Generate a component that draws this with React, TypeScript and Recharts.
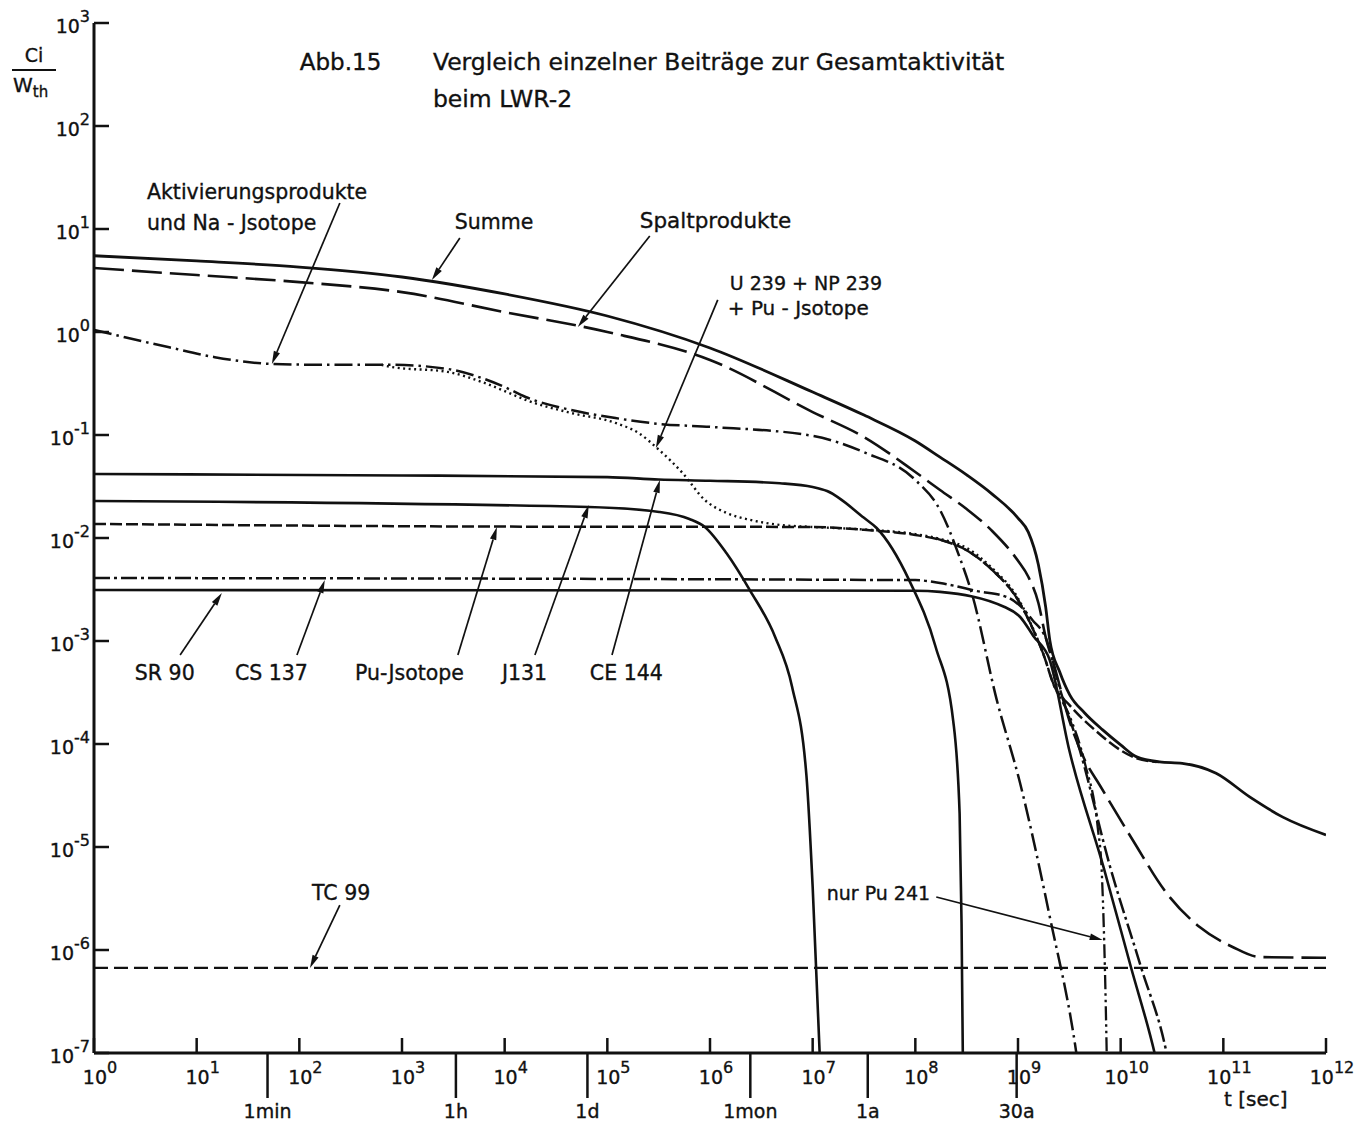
import React from 'react'
import { LineChart, Line, XAxis, YAxis, ReferenceLine, ReferenceDot } from 'recharts'

const FONT = '"DejaVu Sans", "Noto Sans", sans-serif'
const INK = '#111'

// t [sec] -> Ci/Wth
const summe = [
  [1, 5.5], [10, 4.9], [100, 4.27], [1e3, 3.42], [1e4, 2.34], [1e5, 1.43], [1e6, 0.7],
  [1e7, 0.261], [3.16e7, 0.156], [1e8, 0.0875], [1.74e8, 0.061], [3.16e8, 0.041],
  [5.6e8, 0.0267], [1e9, 0.0156], [1.26e9, 0.0114], [1.58e9, 5.5e-3], [1.86e9, 2.14e-3],
  [2.04e9, 1.02e-3], [2.55e9, 5e-4], [3.19e9, 3e-4], [4.46e9, 2e-4], [6.68e9, 1.37e-4],
  [1e10, 9.8e-5], [1.43e10, 7.5e-5], [2.4e10, 6.7e-5], [3.98e10, 6.5e-5], [8.5e10, 5.2e-5],
  [1.82e11, 3.05e-5], [3.8e11, 1.95e-5], [1e12, 1.31e-5],
]
const spalt = [
  [1, 4.18], [10, 3.57], [100, 3.05], [1e3, 2.44], [1e4, 1.56], [1e5, 1.0], [1e6, 0.535],
  [1e7, 0.167], [3.16e7, 0.0957], [1e8, 0.0437], [1.74e8, 0.0292], [3.16e8, 0.0191],
  [5.6e8, 0.0117], [1e9, 6e-3], [1.26e9, 4.2e-3], [1.58e9, 2.34e-3], [1.86e9, 1.09e-3],
  [2.24e9, 5.85e-4], [3.16e9, 1.7e-4], [4.47e9, 7e-5], [6.24e9, 4e-5], [1.31e10, 1.17e-5],
  [2.8e10, 3.57e-6], [5.88e10, 1.67e-6], [1.23e11, 1.07e-6], [2.26e11, 8.55e-7],
  [1e12, 8.4e-7],
]
const aktiv = [
  [1, 1.05], [2, 0.89], [5.4, 0.71], [15, 0.57], [54, 0.49], [178, 0.48], [794, 0.48],
  [2770, 0.438], [6000, 0.357], [1e4, 0.292], [1.6e4, 0.234], [4.4e4, 0.175], [1.2e5, 0.146],
  [3.2e5, 0.128], [1e6, 0.12], [1e7, 0.098], [3.16e7, 0.068], [1e8, 0.0366], [1.74e8, 0.0187],
  [2.7e8, 6.5e-3], [3.55e8, 2.9e-3], [6.2e8, 2.7e-4], [1.04e9, 4.3e-5], [2.04e9, 2.1e-6],
  [3.7e9, 1e-7], [4.2e9, 4e-8],
]
const uNpPu = [
  [631, 0.48], [794, 0.457], [2770, 0.41], [6000, 0.327], [1e4, 0.267], [1.6e4, 0.219],
  [4.4e4, 0.164], [1.2e5, 0.131], [2e5, 0.105], [3.2e5, 0.0715], [5.4e5, 0.0428],
  [8.9e5, 0.0234], [1.45e6, 0.0175], [2.45e6, 0.015], [4.8e6, 0.0134], [1e7, 0.0128],
  [3.16e7, 0.0121], [1e8, 0.0109], [1.74e8, 9.8e-3], [3.16e8, 8e-3], [5.6e8, 5.1e-3],
  [1e9, 2.6e-3], [1.41e9, 1.3e-3], [1.78e9, 7.4e-4],
]
const puIso = [
  [1, 0.0137], [1e4, 0.0129], [1e7, 0.0128], [3.16e7, 0.012], [1e8, 0.0107], [1.74e8, 9.6e-3],
  [3.16e8, 7.6e-3], [5.6e8, 4.9e-3], [1e9, 2.5e-3], [1.41e9, 1.28e-3], [1.78e9, 7.3e-4],
  [2.24e9, 3.7e-4], [3.16e9, 2.4e-4], [5.6e9, 1.37e-4], [1e10, 8.7e-5], [1.41e10, 7.3e-5],
  [2.24e10, 6.7e-5],
]
const pu241 = [
  [1.58e8, 9.9e-3], [3.16e8, 7.6e-3], [5.6e8, 4.9e-3], [1e9, 2.5e-3], [1.41e9, 1.28e-3],
  [1.78e9, 7.3e-4], [2.24e9, 3.7e-4], [3.16e9, 1.9e-4], [4.5e9, 6.4e-5], [6e9, 1.5e-5],
  [6.53e9, 6e-6], [7.31e9, 1e-7], [7.4e9, 5e-8],
]
const sr90 = [
  [1, 3.13e-3], [1e8, 3.08e-3], [1.74e8, 3.0e-3], [7.4e8, 2.14e-3], [1.05e9, 1.71e-3],
  [1.41e9, 1.12e-3], [2.04e9, 6.5e-4], [3.16e9, 8.7e-5], [6.8e9, 6.4e-6], [1.26e10, 6.8e-7],
  [2.14e10, 1e-7], [2.5e10, 5e-8],
]
const cs137 = [
  [1, 4.09e-3], [1e8, 3.9e-3], [1.74e8, 3.66e-3], [4e8, 3.05e-3], [7.8e8, 2.67e-3],
  [1.05e9, 2.19e-3], [1.38e9, 1.6e-3], [1.9e9, 1.02e-3], [2.5e9, 3.7e-4], [4e9, 8.7e-5],
  [7.9e9, 6.4e-6], [1.58e10, 6.8e-7], [2.8e10, 1e-7], [3.2e10, 5e-8],
]
const ce144 = [
  [1, 0.0418], [1e3, 0.0405], [1e5, 0.039], [3.16e5, 0.037], [1e6, 0.036], [4.8e6, 0.034],
  [1e7, 0.0313], [1.38e7, 0.0286], [3.16e7, 0.0157], [4.2e7, 0.0125], [8.7e7, 3.9e-3],
  [1.58e8, 8.7e-4], [2.34e8, 1.67e-4], [2.7e8, 2.1e-5], [2.82e8, 1.8e-6], [2.9e8, 1e-7],
  [2.95e8, 5e-8],
]
const j131 = [
  [1, 0.0229], [6.6e4, 0.02], [3.2e5, 0.0179], [6.3e5, 0.0153], [8.9e5, 0.0128],
  [1.45e6, 7.1e-3], [2.45e6, 3.1e-3], [4.3e6, 1.1e-3], [6.3e6, 3.6e-4], [8.7e6, 4.9e-5],
  [1e7, 4.1e-6], [1.17e7, 1e-7], [1.2e7, 5e-8],
]
const tc99 = [[1, 6.7e-7], [1e4, 6.7e-7], [1e8, 6.7e-7], [1e12, 6.7e-7]]

const decades = [1, 1e1, 1e2, 1e3, 1e4, 1e5, 1e6, 1e7, 1e8, 1e9, 1e10, 1e11, 1e12]
const valueDecades = [1e-7, 1e-6, 1e-5, 1e-4, 1e-3, 1e-2, 1e-1, 1, 1e1, 1e2, 1e3]
const timeMarks = [
  { t: 49, label: '1min' }, { t: 3350, label: '1h' }, { t: 6.4e4, label: '1d' },
  { t: 2.47e6, label: '1mon' }, { t: 3.44e7, label: '1a' }, { t: 9.7e8, label: '30a' },
]

// text notes: [text, t, v, size] at left edge / vertical centre
const notes: [string, number, number, number][] = [
  ['Abb.15', 101, 418, 23],
  ['Vergleich einzelner Beiträge zur Gesamtaktivität', 2000, 418, 23.5],
  ['beim LWR-2', 2000, 183, 23.5],
  ['Aktivierungsprodukte', 3.28, 22.9, 20.5],
  ['und Na - Jsotope', 3.28, 11.4, 20.5],
  ['Summe', 3270, 11.7, 20.5],
  ['Spaltprodukte', 2.07e5, 12, 21.5],
  ['U 239 + NP 239', 1.56e6, 2.99, 19],
  ['+ Pu - Jsotope', 1.49e6, 1.71, 20],
  ['SR 90', 2.5, 4.89e-4, 20.5],
  ['CS 137', 23.6, 4.89e-4, 20.5],
  ['Pu-Jsotope', 348, 4.89e-4, 20.5],
  ['J131', 9400, 4.89e-4, 20.5],
  ['CE 144', 6.76e4, 4.89e-4, 20.5],
  ['TC 99', 133, 3.57e-6, 20.5],
  ['nur Pu 241', 1.37e7, 3.57e-6, 19],
]

// leader arrows: tail [t, v] -> tip [t, v]
const arrows: number[][][] = [
  [[248, 17.9], [54, 0.489]],
  [[3660, 8.18], [1955, 3.2]],
  [[2.59e5, 8.55], [5.16e4, 1.12]],
  [[1.19e6, 2.05], [2.97e5, 0.0748]],
  [[1.11e5, 7.3e-4], [3.25e5, 0.0366]],
  [[1.97e4, 7.3e-4], [6.6e4, 0.0209]],
  [[3500, 7.3e-4], [8400, 0.0128]],
  [[94.8, 7.3e-4], [177, 3.9e-3]],
  [[6.9, 7.3e-4], [17.6, 2.92e-3]],
  [[248, 2.73e-6], [127, 6.7e-7]],
  [[1.6e8, 3.27e-6], [6.68e9, 1.25e-6]],
]

const pts = (a: number[][]) => a.map(([t, v]) => ({ t, v }))

const series = [
  { key: 'summe', data: summe, dash: undefined, w: 2.8 },
  { key: 'spalt', data: spalt, dash: '30 8', w: 2.6 },
  { key: 'aktiv', data: aktiv, dash: '18 5 2.5 5', w: 2.5 },
  { key: 'uNpPu', data: uNpPu, dash: '2 3.5', w: 2.4 },
  { key: 'puIso', data: puIso, dash: '12 4', w: 2.5 },
  { key: 'pu241', data: pu241, dash: '14 4 2.5 4 2.5 4', w: 2.3 },
  { key: 'sr90', data: sr90, dash: undefined, w: 2.6 },
  { key: 'cs137', data: cs137, dash: '16 4 3 4', w: 2.5 },
  { key: 'ce144', data: ce144, dash: undefined, w: 2.6 },
  { key: 'j131', data: j131, dash: undefined, w: 2.6 },
  { key: 'tc99', data: tc99, dash: '14 6', w: 2.3 },
]

const expOf = (v: number) => Math.round(Math.log10(v))
const textStyle = { stroke: INK, strokeWidth: 0.35 }

const LeftTick = (p: any) => {
  const { x, y, payload } = p
  return (
    <g>
      <line x1={x} x2={x + 15} y1={y} y2={y} stroke={INK} strokeWidth={2.5} />
      <text x={x - 4} y={y + 3} textAnchor="end" dominantBaseline="central" fontFamily={FONT} fontSize={19} fill={INK} {...textStyle}>
        10<tspan dy={-10} fontSize={16}>{expOf(payload.value)}</tspan>
      </text>
    </g>
  )
}

const RightTick = (p: any) => (
  <line x1={p.x} x2={p.x - 15} y1={p.y} y2={p.y} stroke={INK} strokeWidth={2.5} />
)

const TopTick = (p: any) => (
  <line x1={p.x} x2={p.x} y1={p.y} y2={p.y + 14} stroke={INK} strokeWidth={2.5} />
)

const BottomTick = (p: any) => {
  const { x, y, payload } = p
  const mark = timeMarks.find((m) => m.t === payload.value)
  if (mark) {
    return (
      <g>
        <line x1={x} x2={x} y1={y} y2={y + 45} stroke={INK} strokeWidth={2.5} />
        <text x={x} y={y + 58} textAnchor="middle" dominantBaseline="central" fontFamily={FONT} fontSize={19} fill={INK} {...textStyle}>
          {mark.label}
        </text>
      </g>
    )
  }
  return (
    <g>
      <line x1={x} x2={x} y1={y} y2={y - 15} stroke={INK} strokeWidth={2.5} />
      <text x={x + 6} y={y + 24} textAnchor="middle" dominantBaseline="central" fontFamily={FONT} fontSize={19} fill={INK} {...textStyle}>
        10<tspan dy={-10} fontSize={16}>{expOf(payload.value)}</tspan>
      </text>
    </g>
  )
}

const Arrow = (p: any) => {
  const { x1, y1, x2, y2 } = p
  const a = Math.atan2(y2 - y1, x2 - x1)
  const len = 13
  const half = 3.3
  const bx = x2 - len * Math.cos(a)
  const by = y2 - len * Math.sin(a)
  const px = -Math.sin(a) * half
  const py = Math.cos(a) * half
  return (
    <g>
      <line x1={x1} y1={y1} x2={bx} y2={by} stroke={INK} strokeWidth={1.7} />
      <polygon points={`${x2},${y2} ${bx + px},${by + py} ${bx - px},${by - py}`} fill={INK} />
    </g>
  )
}

export default function App() {
  const axisLine = { stroke: INK, strokeWidth: 3 }
  const htmlText = { position: 'absolute' as const, fontFamily: FONT, color: INK, WebkitTextStroke: '0.35px #111' }
  return (
    <div style={{ position: 'absolute', left: 0, top: 0, width: 1358, height: 1129, background: '#fff' }}>
      <LineChart width={1358} height={1129} margin={{ top: 23, right: 32, bottom: 0, left: 0 }}>
        <XAxis
          dataKey="t" type="number" scale="log" domain={[1, 1e12]} allowDataOverflow
          ticks={[...decades, ...timeMarks.map((m) => m.t)]} interval={0}
          height={76} tickSize={0} tickMargin={0} tick={BottomTick} axisLine={axisLine} tickLine={false}
        />
        <XAxis
          xAxisId="top" orientation="top" dataKey="t" type="number" scale="log" domain={[1, 1e12]}
          allowDataOverflow ticks={decades} interval={0} height={0} tickSize={0} tickMargin={0}
          tick={TopTick} axisLine={axisLine} tickLine={false}
        />
        <YAxis
          dataKey="v" type="number" scale="log" domain={[1e-7, 1e3]} allowDataOverflow
          ticks={valueDecades} interval={0} width={94} tickSize={0} tickMargin={0}
          tick={LeftTick} axisLine={axisLine} tickLine={false}
        />
        <YAxis
          yAxisId="right" orientation="right" type="number" scale="log" domain={[1e-7, 1e3]}
          allowDataOverflow ticks={valueDecades} interval={0} width={0} tickSize={0} tickMargin={0}
          tick={RightTick} axisLine={axisLine} tickLine={false}
        />
        {series.map((s) => (
          <Line
            key={s.key} data={pts(s.data)} dataKey="v" type="monotone" stroke={INK}
            strokeWidth={s.w} strokeDasharray={s.dash} dot={false} activeDot={false}
            isAnimationActive={false}
          />
        ))}
        {arrows.map(([from, to], i) => (
          <ReferenceLine
            key={'a' + i}
            segment={[{ x: from[0], y: from[1] }, { x: to[0], y: to[1] }]}
            shape={Arrow}
          />
        ))}
        {notes.map(([text, t, v, size], i) => (
          <ReferenceDot
            key={'n' + i} x={t} y={v} r={0}
            shape={(p: any) => (
              <text x={p.cx} y={p.cy} dominantBaseline="central" fontFamily={FONT}
                fontSize={size} fill={INK} {...textStyle}>
                {text}
              </text>
            )}
          />
        ))}
      </LineChart>
      <div style={{ ...htmlText, left: 12, top: 45, width: 44, textAlign: 'center', fontSize: 19, lineHeight: '20px' }}>
        Ci
      </div>
      <div style={{ position: 'absolute', left: 12, top: 69, width: 44, height: 2, background: INK }} />
      <div style={{ ...htmlText, left: 13, top: 74, fontSize: 20, lineHeight: '22px' }}>
        W<sub style={{ fontSize: 15 }}>th</sub>
      </div>
      <div style={{ ...htmlText, left: 1224, top: 1087, fontSize: 20, whiteSpace: 'pre' }}>
        t [sec]
      </div>
    </div>
  )
}
